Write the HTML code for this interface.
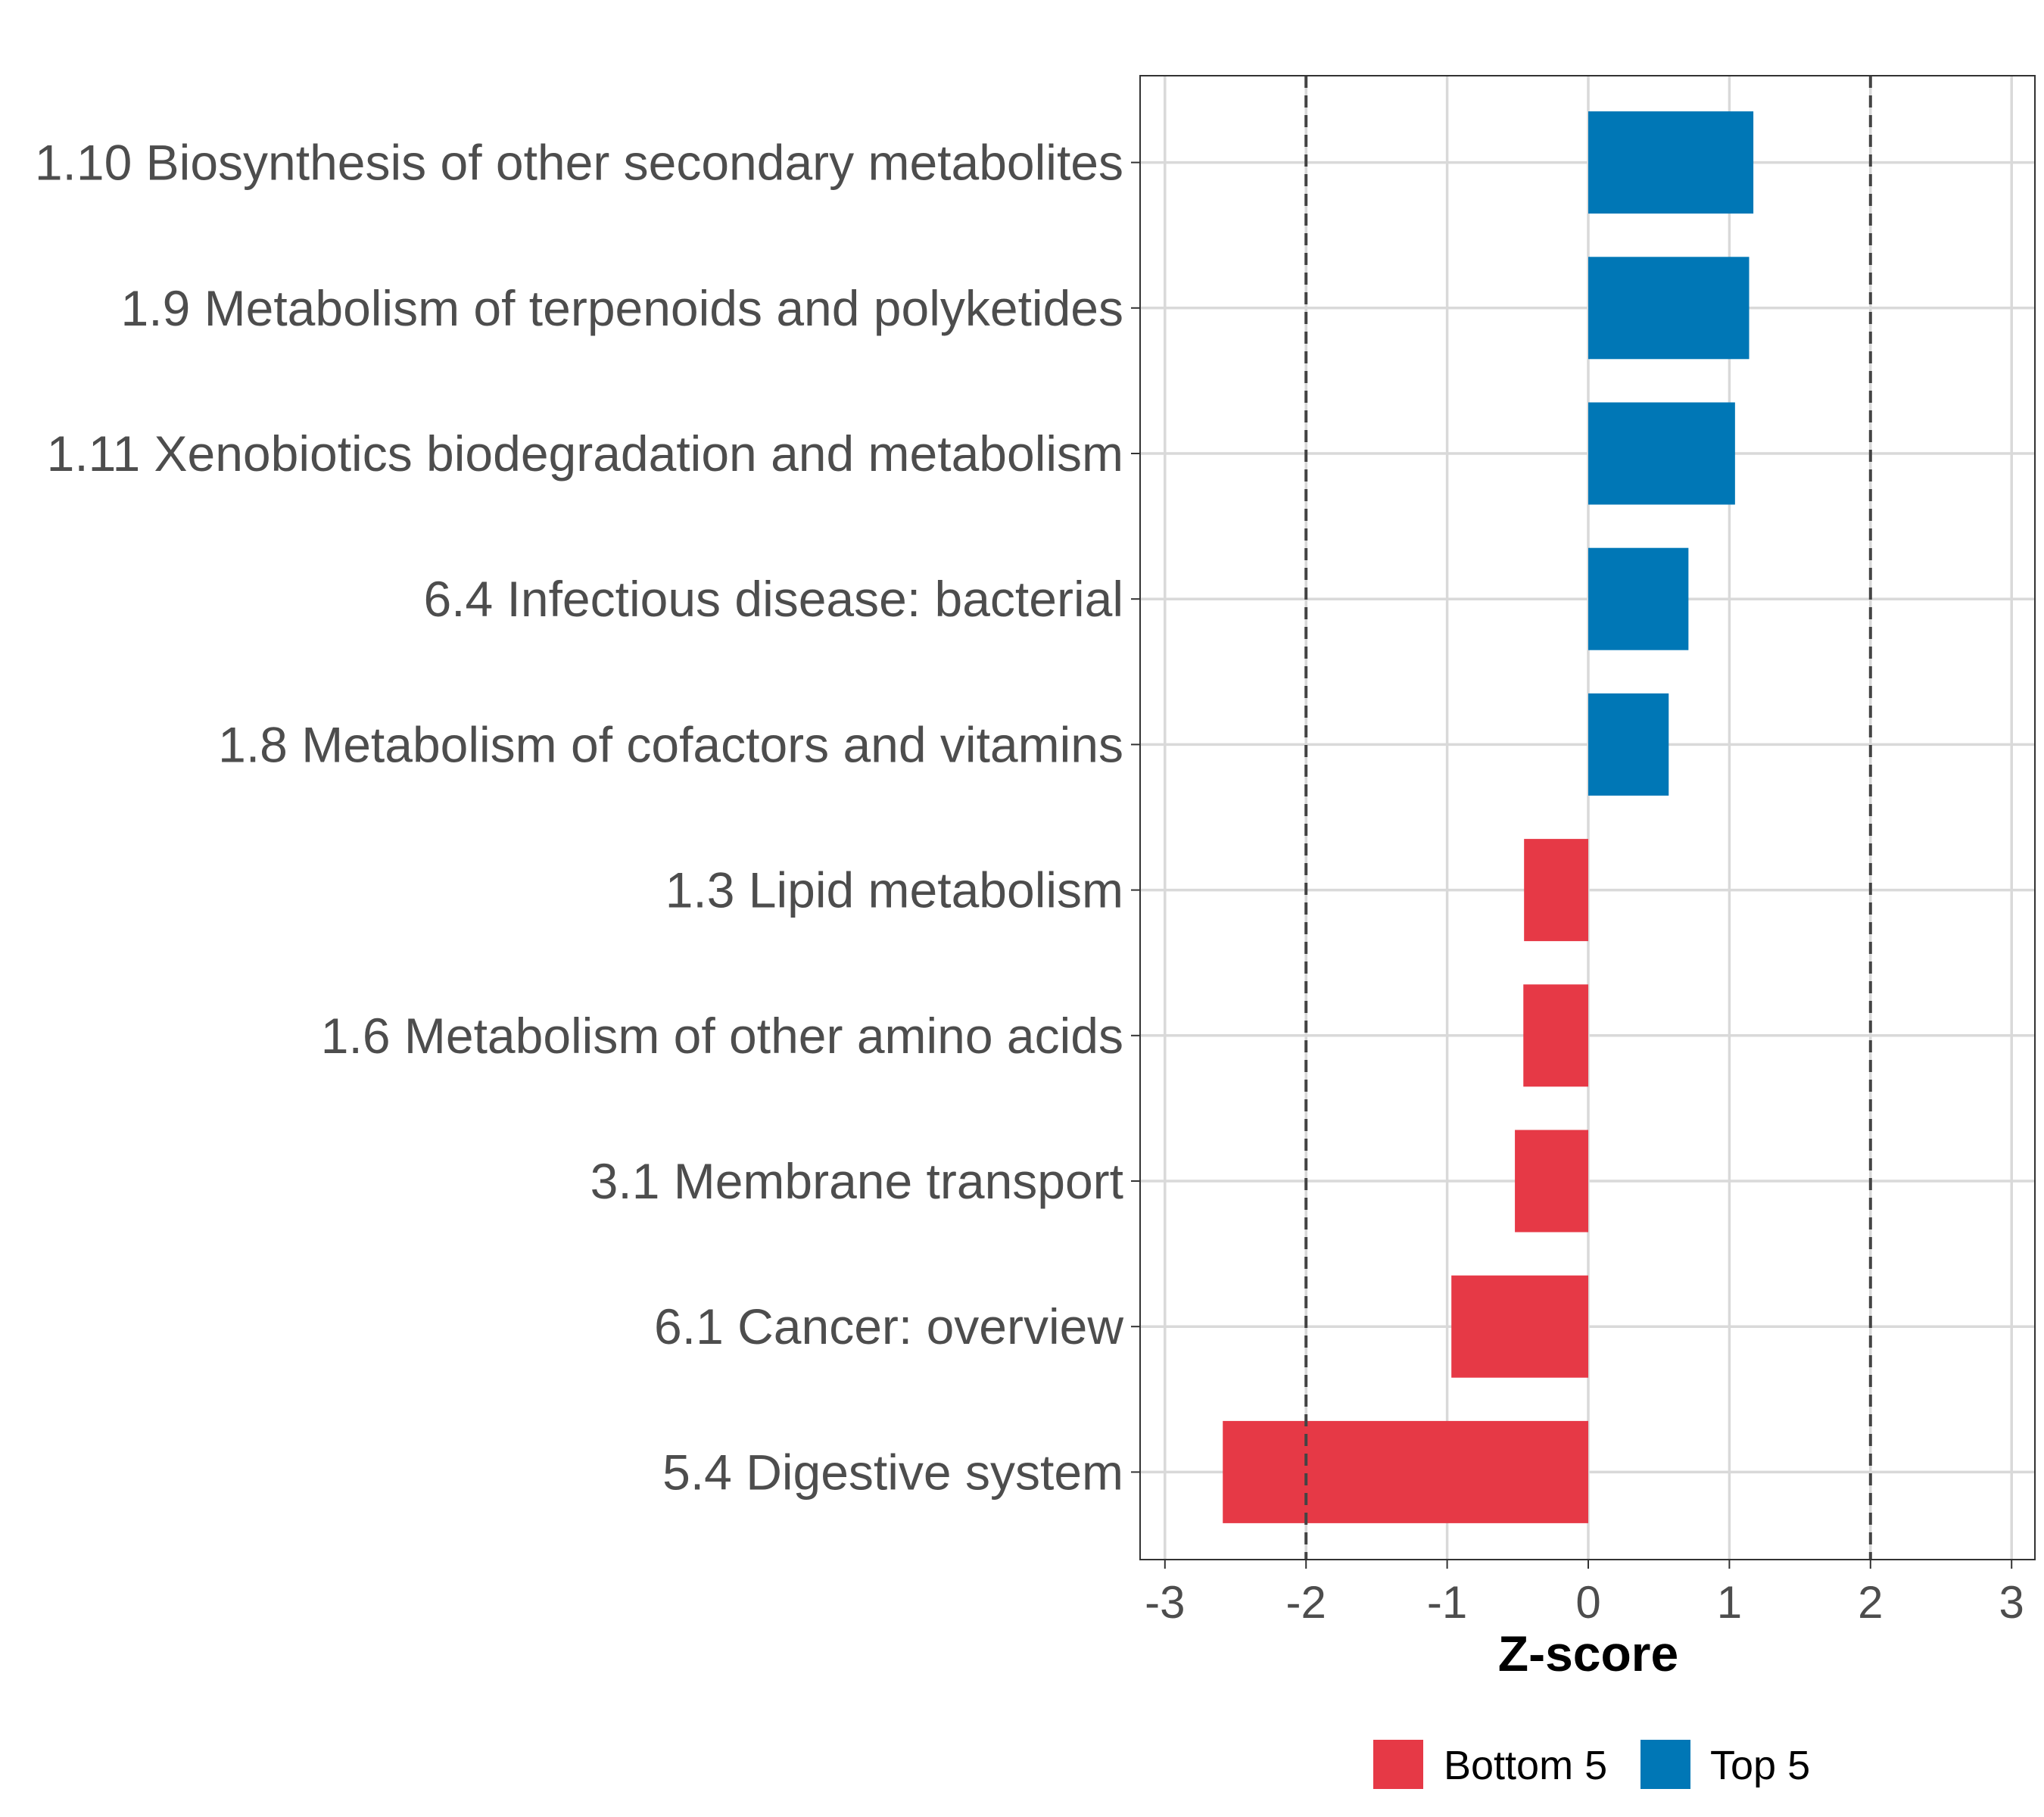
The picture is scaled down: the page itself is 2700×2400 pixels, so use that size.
<!DOCTYPE html>
<html><head><meta charset="utf-8"><style>
html,body{margin:0;padding:0;background:#fff;}
svg{display:block;font-family:"Liberation Sans",Arial,sans-serif;}
</style></head><body>
<svg id="chart" width="2700" height="2400" viewBox="0 0 2700 2400" xmlns="http://www.w3.org/2000/svg">
<rect width="2700" height="2400" fill="#fff"/>
<g id="grid"></g>
<g id="bars"></g>
<g id="refs"></g>
<rect x="1506" y="100" width="1182" height="1960" fill="none" stroke="#333" stroke-width="2"/>
<g id="yaxis"></g>
<g id="xaxis"></g>
<text x="2098" y="2207" text-anchor="middle" font-size="66" font-weight="bold" fill="#000">Z-score</text>
<g>
<rect x="1814" y="2298" width="66" height="65" fill="#E63946"/>
<text x="1907" y="2350" font-size="54" fill="#000">Bottom 5</text>
<rect x="2167" y="2298" width="66" height="65" fill="#0077B6"/>
<text x="2259" y="2350" font-size="54" fill="#000">Top 5</text>
</g>
</svg>
<script>
const categories = ["1.10 Biosynthesis of other secondary metabolites","1.9 Metabolism of terpenoids and polyketides","1.11 Xenobiotics biodegradation and metabolism","6.4 Infectious disease: bacterial","1.8 Metabolism of cofactors and vitamins","1.3 Lipid metabolism","1.6 Metabolism of other amino acids","3.1 Membrane transport","6.1 Cancer: overview","5.4 Digestive system"];
const values = [1.17, 1.14, 1.04, 0.71, 0.57, -0.455, -0.46, -0.52, -0.97, -2.59];
const groups = ["Top 5","Top 5","Top 5","Top 5","Top 5","Bottom 5","Bottom 5","Bottom 5","Bottom 5","Bottom 5"];
const xTicks = [-3,-2,-1,0,1,2,3];
const refLines = [-2, 2];

const NS="http://www.w3.org/2000/svg";
const L=1506,R=2688,T=100,B=2060;
function xs(v){return 2098+v*186.4;}
function ys(i){return 214.6+i*192.2;}
const bandH=135;
function mk(tag,attrs,parent){const e=document.createElementNS(NS,tag);for(const k in attrs)e.setAttribute(k,attrs[k]);parent.appendChild(e);return e;}
const grid=document.getElementById('grid'),bars=document.getElementById('bars'),refs=document.getElementById('refs'),ya=document.getElementById('yaxis'),xa=document.getElementById('xaxis');
xTicks.forEach(t=>{
  const g=mk('line',{x1:xs(t),x2:xs(t),y1:T,y2:B,stroke:'#d9d9d9','stroke-width':3.5},grid);
  
  
  const tk=mk('line',{x1:xs(t),x2:xs(t),y1:B,y2:B+12,stroke:'#333','stroke-width':2},xa);
  
  
  const tx=mk('text',{x:xs(t),y:2137,'text-anchor':'middle','font-size':60,fill:'#4d4d4d'},xa);
  tx.textContent=String(t);
  
  
});
categories.forEach((c,i)=>{
  const g=mk('line',{x1:L,x2:R,y1:ys(i),y2:ys(i),stroke:'#d9d9d9','stroke-width':3.5},grid);
  
  
  const v=values[i];
  const b=mk('rect',{x:Math.min(xs(0),xs(v)),y:ys(i)-bandH/2,width:Math.abs(xs(v)-xs(0)),height:bandH,fill:groups[i]==='Top 5'?'#0077B6':'#E63946'},bars);
  
  
  const tk=mk('line',{x1:L-12,x2:L,y1:ys(i),y2:ys(i),stroke:'#333','stroke-width':2},ya);
  
  
  const tx=mk('text',{x:L-22,y:ys(i)+23,'text-anchor':'end','font-size':66,fill:'#4d4d4d'},ya);
  tx.textContent=c;
  
  
});
refLines.forEach(r=>{
  const l=mk('line',{x1:xs(r),x2:xs(r),y1:T,y2:B,stroke:'#444','stroke-width':4,'stroke-dasharray':'16,10'},refs);
  
  
});
</script>
</body></html>
